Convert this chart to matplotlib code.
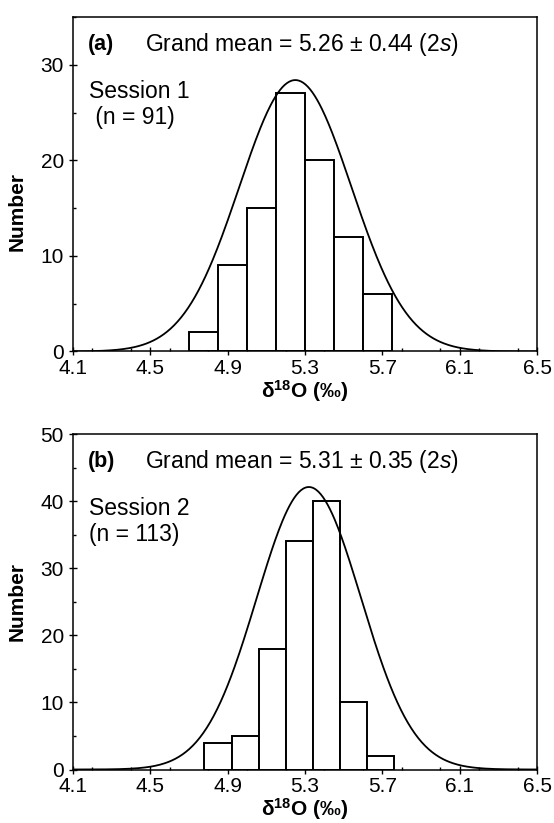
import numpy as np
import matplotlib
matplotlib.use("Agg")
import matplotlib.pyplot as plt
from matplotlib.ticker import MultipleLocator

plt.rcParams['font.family'] = ['Liberation Sans', 'DejaVu Sans']
plt.rcParams['mathtext.fontset'] = 'custom'
plt.rcParams['mathtext.rm'] = 'Liberation Sans'
plt.rcParams['mathtext.it'] = 'Liberation Sans:italic'
plt.rcParams['mathtext.bf'] = 'Liberation Sans:bold'

# session 1
edges1 = [4.70, 4.85, 5.00, 5.15, 5.30, 5.45, 5.60, 5.75]
counts1 = [2, 9, 15, 27, 20, 12, 6]
fit1 = dict(mean=5.25, sigma=0.29, peak=28.4)

# session 2
edges2 = [4.78, 4.92, 5.06, 5.20, 5.34, 5.48, 5.62, 5.76]
counts2 = [4, 5, 18, 34, 40, 10, 2]
fit2 = dict(mean=5.32, sigma=0.27, peak=42.1)

xticks = [4.1, 4.5, 4.9, 5.3, 5.7, 6.1, 6.5]

panels = [
    dict(edges=edges1, counts=counts1, fit=fit1, ymax=35, yticks=[0, 10, 20, 30],
         tag='(a)', title=r'Grand mean = 5.26 ± 0.44 (2$\mathit{s}$)',
         session='Session 1', n=' (n = 91)', ylab_y=0.42),
    dict(edges=edges2, counts=counts2, fit=fit2, ymax=50, yticks=[0, 10, 20, 30, 40, 50],
         tag='(b)', title=r'Grand mean = 5.31 ± 0.35 (2$\mathit{s}$)',
         session='Session 2', n='(n = 113)', ylab_y=0.5),
]

fig = plt.figure(figsize=(5.54, 8.23), dpi=100)
rects = [[73/554, (823-351.5)/823, 464/554, 334.5/823],
         [73/554, (823-769.5)/823, 464/554, 335.5/823]]

for p, r in zip(panels, rects):
    ax = fig.add_axes(r)
    e = np.array(p['edges'])
    ax.bar(e[:-1], p['counts'], width=np.diff(e), align='edge',
           facecolor='white', edgecolor='black', lw=1.4, zorder=2)
    xs = np.linspace(4.1, 6.5, 400)
    f = p['fit']
    ys = f['peak'] * np.exp(-0.5 * ((xs - f['mean']) / f['sigma'])**2)
    ax.plot(xs, ys, color='black', lw=1.3, zorder=3)

    ax.set_xlim(4.1, 6.5)
    ax.set_ylim(0, p['ymax'])
    ax.set_xticks(xticks)
    ax.set_xticklabels([f'{t:.1f}' for t in xticks])
    ax.set_yticks(p['yticks'])
    ax.xaxis.set_minor_locator(MultipleLocator(0.2))
    ax.yaxis.set_minor_locator(MultipleLocator(5))
    ax.tick_params(which='major', direction='inout', length=6, width=1, labelsize=15, pad=2.5)
    ax.tick_params(axis='y', which='major', pad=3.5)
    ax.tick_params(which='minor', direction='in', length=2.5, width=1)
    ax.tick_params(top=False, right=False)
    for s in ax.spines.values():
        s.set_linewidth(1.1)

    ax.set_xlabel(r'δ$^{\mathbf{18}}$O (‰)', fontsize=15, fontweight='bold', labelpad=0)
    ax.set_ylabel('Number', fontsize=15, fontweight='bold')
    ax.yaxis.set_label_coords(-0.1, p['ylab_y'])

    ax.text(0.032, 0.917, p['tag'], transform=ax.transAxes, fontsize=15.5,
            fontweight='bold', va='center', ha='left')
    ax.text(0.155, 0.917, p['title'], transform=ax.transAxes, fontsize=16.5,
            va='center', ha='left')
    ax.text(0.034, 0.777, p['session'], transform=ax.transAxes, fontsize=16.5,
            va='center', ha='left')
    ax.text(0.034, 0.701, p['n'], transform=ax.transAxes, fontsize=16.5,
            va='center', ha='left')

fig.savefig('out.png', dpi=100)
